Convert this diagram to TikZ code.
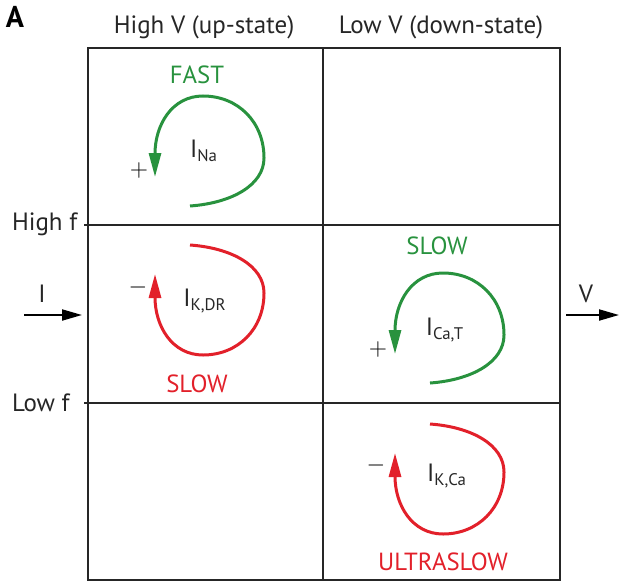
\documentclass[tikz,border=0pt]{standalone}
\usepackage{fontspec}
\setmainfont{PT Sans}
\usepackage{tikz}
\usetikzlibrary{arrows.meta}
\definecolor{loopgreen}{RGB}{40, 146, 62}
\definecolor{loopred}{RGB}{226, 32, 42}

\begin{document}
\begin{tikzpicture}[
  x=0.5pt, y=-0.5pt,
  gridline/.style={draw=black!85, line width=1pt},
  headlabel/.style={font=\fontsize{12.5}{14}\selectfont, text=black!85},
  rowlabel/.style={font=\fontsize{12.5}{14}\selectfont, text=black!85, anchor=west},
  speedlabel/.style={font=\fontsize{12.4}{14}\selectfont, text=#1},
  currlabel/.style={font=\fontsize{12.5}{14}\selectfont, text=black!85},
  signlabel/.style={font=\fontsize{12}{14}\selectfont, text=black},
  greenloop/.style={draw=loopgreen, line width=1.5pt,
    -{Triangle[length=12pt, width=6pt]}},
  redloop/.style={draw=loopred, line width=1.5pt,
    -{Triangle[length=12pt, width=6pt]}},
  axisarrow/.style={draw=black, line width=1pt,
    -{Triangle[length=10pt, width=5.5pt]}},
]
\useasboundingbox (0,0) rectangle (619,583);

%% ================================================================
%% GRID
%% ================================================================
\draw[gridline] (88,48) rectangle (560,580);
\draw[gridline] (323,48) -- (323,580);
\draw[gridline] (84,225) -- (560,225);
\draw[gridline] (84,403) -- (560,403);

%% ================================================================
%% HEADINGS AND AXES
%% ================================================================
\node[font=\fontsize{15}{16}\selectfont\bfseries] (panel) at (15,17) {A};
\node[headlabel] (highv) at (204,27) {High V (up-state)};
\node[headlabel] (lowv)  at (441,27) {Low V (down-state)};
\node[rowlabel]  (highf) at (5,224)  {High f};
\node[rowlabel]  (lowf)  at (5,403)  {Low f};

% input current arrow
\coordinate (iin)  at (24,315);
\coordinate (iout) at (82,315);
\draw[axisarrow] (iin) -- (iout);
\node[headlabel] (ilabel) at (42,294) {I};

% output voltage arrow
\coordinate (vin)  at (566,315);
\coordinate (vout) at (619,315);
\draw[axisarrow] (vin) -- (vout);
\node[headlabel] (vlabel) at (586,294) {V};

%% ================================================================
%% TOP LEFT: I_Na
%% ================================================================
\node[speedlabel=loopgreen] (fast) at (197,75) {FAST};
\draw[greenloop] (190,206) .. controls (232,203) and (264,185) .. (264,158)
  .. controls (264,122) and (238,96) .. (203,96)
  .. controls (172,96) and (155,125) .. (155,177);
\node[currlabel] (ina) at (204,151) {I\textsubscript{\fontsize{8.4}{9}\selectfont Na}};
\node[signlabel] (pna) at (139,170) {$+$};

%% ================================================================
%% MIDDLE LEFT: I_K,DR
%% ================================================================
\draw[redloop] (190,245) .. controls (232,248) and (264,266) .. (264,293)
  .. controls (264,329) and (238,355) .. (203,355)
  .. controls (172,355) and (155,326) .. (155,274);
\node[currlabel] (ikdr) at (205,301) {I\textsubscript{\fontsize{8.4}{9}\selectfont K,DR}};
\node[signlabel] (mkdr) at (138,287) {$-$};
\node[speedlabel=loopred] (slowred) at (197,384) {SLOW};

%% ================================================================
%% MIDDLE RIGHT: I_Ca,T
%% ================================================================
\node[speedlabel=loopgreen] (slowgreen) at (437,246) {SLOW};
\draw[greenloop] (430,383) .. controls (472,380) and (504,362) .. (504,335)
  .. controls (504,299) and (478,273) .. (443,273)
  .. controls (412,273) and (395,302) .. (395,354);
\node[currlabel] (icat) at (445,330) {I\textsubscript{\fontsize{8.4}{9}\selectfont Ca,T}};
\node[signlabel] (pcat) at (378,349) {$+$};

%% ================================================================
%% BOTTOM RIGHT: I_K,Ca
%% ================================================================
\draw[redloop] (430,424) .. controls (472,427) and (504,445) .. (504,472)
  .. controls (504,508) and (478,534) .. (443,534)
  .. controls (412,534) and (395,505) .. (395,453);
\node[currlabel] (ikca) at (447,476) {I\textsubscript{\fontsize{8.4}{9}\selectfont K,Ca}};
\node[signlabel] (mkca) at (376,465) {$-$};
\node[speedlabel=loopred] (ultra) at (443,562) {ULTRASLOW};

\end{tikzpicture}
\end{document}
